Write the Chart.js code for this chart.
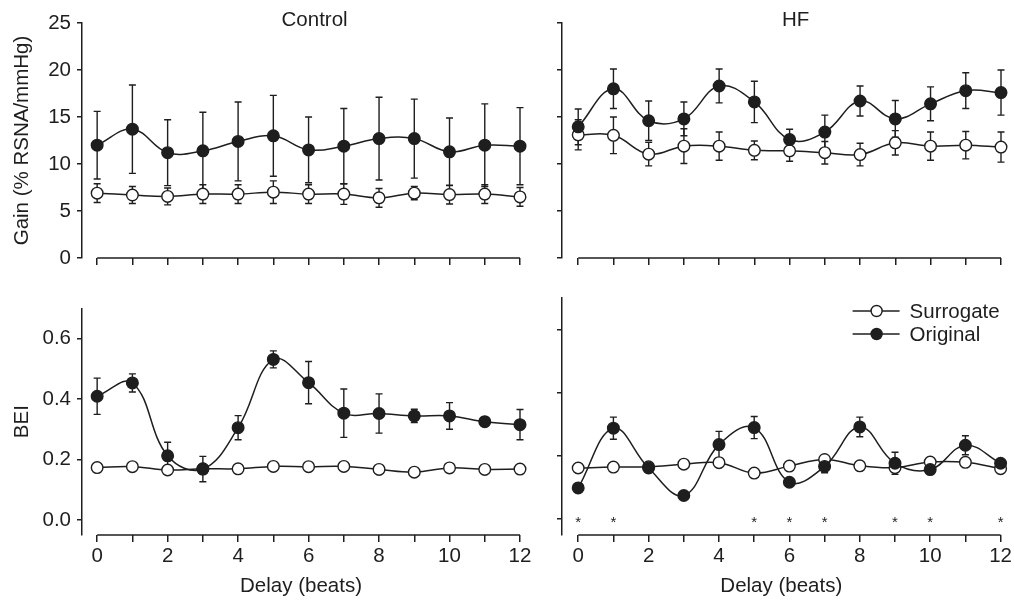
<!DOCTYPE html>
<html>
<head>
<meta charset="utf-8">
<script src="https://cdn.jsdelivr.net/npm/chart.js@4.4.1/dist/chart.umd.min.js"></script>
<style>
  html, body { margin: 0; padding: 0; background: #fff; overflow: hidden; }
  #wrap { position: relative; width: 1014px; height: 601px; }
  canvas { position: absolute; }
</style>
</head>
<body>
<div id="wrap">
  <canvas id="ctlGain" style="left:0px;top:0px;width:540px;height:290px" width="540" height="290"></canvas>
  <canvas id="hfGain" style="left:500px;top:0px;width:514px;height:290px" width="514" height="290"></canvas>
  <canvas id="ctlBei" style="left:0px;top:290px;width:540px;height:311px" width="540" height="311"></canvas>
  <canvas id="hfBei" style="left:500px;top:290px;width:514px;height:311px" width="514" height="311"></canvas>
</div>
<script>
// delays (beats)
const delays = [0, 1, 2, 3, 4, 5, 6, 7, 8, 9, 10, 11, 12];

// Gain, Control
const ctlGainOrig    = [12.0, 13.7, 11.2, 11.4, 12.4, 13.0, 11.5, 11.9, 12.7, 12.7, 11.3, 12.0, 11.9];
const ctlGainOrigErr = [3.6, 4.7, 3.5, 4.1, 4.2, 4.3, 3.5, 4.0, 4.4, 4.2, 3.6, 4.4, 4.1];
const ctlGainSurr    = [6.9, 6.7, 6.55, 6.8, 6.8, 7.0, 6.8, 6.8, 6.4, 6.9, 6.75, 6.8, 6.5];
const ctlGainSurrErr = [1.0, 0.9, 0.9, 1.0, 1.0, 1.2, 1.0, 1.1, 1.0, 0.7, 1.0, 1.0, 1.0];

// Gain, HF
const hfGainOrig    = [13.95, 18.0, 14.6, 14.8, 18.3, 16.6, 12.6, 13.4, 16.7, 14.8, 16.4, 17.8, 17.6];
const hfGainOrigErr = [1.9, 2.1, 2.1, 1.8, 1.8, 2.2, 1.1, 1.8, 1.6, 1.95, 1.8, 1.9, 2.4];
const hfGainSurr    = [13.1, 13.05, 11.05, 11.9, 11.9, 11.45, 11.4, 11.2, 11.0, 12.25, 11.9, 12.0, 11.8];
const hfGainSurrErr = [1.6, 1.95, 1.25, 1.85, 1.5, 1.0, 1.1, 1.2, 1.2, 1.3, 1.5, 1.45, 1.6];

// BEI, Control
const ctlBeiOrig    = [0.409, 0.453, 0.212, 0.168, 0.305, 0.531, 0.454, 0.353, 0.352, 0.344, 0.344, 0.325, 0.315];
const ctlBeiOrigErr = [0.06, 0.03, 0.045, 0.042, 0.04, 0.028, 0.07, 0.08, 0.065, 0.022, 0.044, 0.015, 0.05];
const ctlBeiSurr    = [0.173, 0.176, 0.165, 0.169, 0.169, 0.177, 0.176, 0.177, 0.167, 0.158, 0.172, 0.167, 0.168];
const ctlBeiSurrErr = [0.005, 0.005, 0.005, 0.005, 0.005, 0.005, 0.005, 0.005, 0.005, 0.005, 0.005, 0.005, 0.005];

// BEI, HF
const hfBeiOrig    = [0.099, 0.288, 0.162, 0.075, 0.236, 0.290, 0.117, 0.167, 0.292, 0.177, 0.157, 0.234, 0.177];
const hfBeiOrigErr = [0.012, 0.035, 0.01, 0.008, 0.042, 0.035, 0.01, 0.02, 0.031, 0.035, 0.01, 0.03, 0.01];
const hfBeiSurr    = [0.162, 0.165, 0.166, 0.174, 0.179, 0.146, 0.168, 0.189, 0.169, 0.163, 0.181, 0.180, 0.160];
const hfBeiSurrErr = [0.005, 0.005, 0.005, 0.005, 0.005, 0.005, 0.005, 0.005, 0.005, 0.005, 0.005, 0.005, 0.005];

// delays marked with * (HF BEI)
const hfSigDelays = [0, 1, 5, 6, 7, 9, 10, 12];

const gainTicks = [0, 5, 10, 15, 20, 25];
const beiTicks = [0, 0.2, 0.4, 0.6];

const INK = '#1e1e1e';
const FONT = '"Liberation Sans", Arial, Helvetica, sans-serif';
Chart.defaults.font.family = FONT;
Chart.defaults.font.size = 20.5;
Chart.defaults.color = INK;

const panelDeco = {
    id: 'panelDeco',
    beforeDatasetsDraw(chart) {
        const ctx = chart.ctx;
        const xs = chart.scales.x, ys = chart.scales.y;
        ctx.save();
        ctx.strokeStyle = INK;
        ctx.lineWidth = 1.4;
        chart.data.datasets.forEach(ds => {
            ds.data.forEach((p, i) => {
                const e = ds.errorBars[i];
                const x = xs.getPixelForValue(p.x);
                const yt = ys.getPixelForValue(p.y + e);
                const yb = ys.getPixelForValue(p.y - e);
                ctx.beginPath();
                ctx.moveTo(x, yt); ctx.lineTo(x, yb);
                ctx.moveTo(x - 3.5, yt); ctx.lineTo(x + 3.5, yt);
                ctx.moveTo(x - 3.5, yb); ctx.lineTo(x + 3.5, yb);
                ctx.stroke();
            });
        });
        ctx.restore();
    },
    afterDraw(chart, args, opts) {
        const ctx = chart.ctx;
        const xs = chart.scales.x, ys = chart.scales.y;
        const area = chart.chartArea;
        ctx.save();
        // x axis line from first to last delay
        ctx.strokeStyle = INK;
        ctx.lineWidth = 1.5;
        ctx.beginPath();
        ctx.moveTo(xs.getPixelForValue(delays[0]), area.bottom);
        ctx.lineTo(xs.getPixelForValue(delays[delays.length - 1]), area.bottom);
        ctx.stroke();

        ctx.fillStyle = INK;
        if (opts.title) {
            ctx.font = '20.5px ' + FONT;
            ctx.textAlign = 'center';
            ctx.textBaseline = 'middle';
            ctx.fillText(opts.title, xs.getPixelForValue(6) + 6, 20);
        }
        if (opts.stars) {
            ctx.font = '15px ' + FONT;
            ctx.textAlign = 'center';
            ctx.textBaseline = 'middle';
            opts.stars.forEach(d => {
                ctx.fillText('*', xs.getPixelForValue(d), ys.getPixelForValue(0) + 4);
            });
        }
        if (opts.legend) {
            const lx = area.right - 148;
            chart.data.datasets.forEach((ds, k) => {
                const y = area.top + 13 + k * 23;
                ctx.strokeStyle = INK;
                ctx.lineWidth = 1.4;
                ctx.beginPath();
                ctx.moveTo(lx, y); ctx.lineTo(lx + 47, y);
                ctx.stroke();
                ctx.beginPath();
                ctx.arc(lx + 24, y, 5.5, 0, Math.PI * 2);
                ctx.fillStyle = ds.pointBackgroundColor;
                ctx.fill();
                ctx.stroke();
                ctx.fillStyle = INK;
                ctx.font = '20.5px ' + FONT;
                ctx.textAlign = 'left';
                ctx.textBaseline = 'middle';
                ctx.fillText(ds.label, lx + 57, y + 1);
            });
        }
        ctx.restore();
    }
};

function series(label, values, errs, fill, order) {
    return {
        label: label,
        data: values.map((v, i) => ({ x: delays[i], y: v })),
        errorBars: errs,
        borderColor: INK,
        borderWidth: 1.5,
        pointBackgroundColor: fill,
        pointBorderColor: INK,
        pointBorderWidth: 1.4,
        pointRadius: 5.8,
        tension: 0.4,
        clip: false,
        order: order
    };
}

function makePanel(id, cfg) {
    const yOpts = {
        type: 'linear',
        min: cfg.yMin,
        max: cfg.yMax,
        afterBuildTicks: s => { s.ticks = cfg.yTicks.map(v => ({ value: v })); },
        afterFit: s => { s.width = cfg.yWidth; },
        border: { display: true, color: INK, width: 1.5 },
        grid: { display: true, drawOnChartArea: false, drawTicks: true, tickLength: 5, color: INK, lineWidth: 1.5 },
        ticks: {
            display: cfg.yLabels,
            padding: 6,
            callback: v => cfg.yFmt(v)
        },
        title: {
            display: !!cfg.yTitle,
            text: cfg.yTitle || '',
            padding: { top: 10, bottom: 0 }
        }
    };
    const xOpts = {
        type: 'linear',
        min: cfg.xMin,
        max: 12,
        afterBuildTicks: s => { s.ticks = delays.map(v => ({ value: v })); },
        afterFit: s => { s.height = cfg.xHeight; },
        border: { display: false },
        grid: { display: true, drawOnChartArea: false, drawTicks: true, tickLength: 7, color: INK, lineWidth: 1.5 },
        ticks: {
            display: cfg.xLabels,
            autoSkip: false,
            maxRotation: 0,
            padding: 2,
            callback: v => (v % 2 === 0 ? String(v) : '')
        },
        title: {
            display: cfg.xLabels,
            text: 'Delay (beats)',
            padding: { top: 0, bottom: 2 }
        }
    };
    return new Chart(document.getElementById(id), {
        type: 'line',
        data: {
            datasets: [
                series('Surrogate', cfg.surr, cfg.surrErr, '#ffffff', 2),
                series('Original', cfg.orig, cfg.origErr, INK, 1)
            ]
        },
        options: {
            responsive: false,
            animation: false,
            events: [],
            layout: { padding: cfg.pad },
            scales: { x: xOpts, y: yOpts },
            plugins: {
                legend: { display: false },
                tooltip: { enabled: false },
                panelDeco: cfg.deco
            }
        },
        plugins: [panelDeco]
    });
}

const gainFmt = v => String(v);
const beiFmt = v => v.toFixed(1);

makePanel('ctlGain', {
    orig: ctlGainOrig, origErr: ctlGainOrigErr, surr: ctlGainSurr, surrErr: ctlGainSurrErr,
    yMin: 0, yMax: 25, yTicks: gainTicks, yFmt: gainFmt, yLabels: true, yTitle: 'Gain (% RSNA/mmHg)',
    yWidth: 82, xMin: -0.43, xHeight: 32, xLabels: false,
    pad: { top: 23, right: 20, left: 0, bottom: 0 },
    deco: { title: 'Control' }
});

makePanel('hfGain', {
    orig: hfGainOrig, origErr: hfGainOrigErr, surr: hfGainSurr, surrErr: hfGainSurrErr,
    yMin: 0, yMax: 25, yTicks: gainTicks, yFmt: gainFmt, yLabels: false,
    yWidth: 62, xMin: -0.46, xHeight: 32, xLabels: false,
    pad: { top: 23, right: 13, left: 0, bottom: 0 },
    deco: { title: 'HF' }
});

makePanel('ctlBei', {
    orig: ctlBeiOrig, origErr: ctlBeiOrigErr, surr: ctlBeiSurr, surrErr: ctlBeiSurrErr,
    yMin: -0.05, yMax: 0.7, yTicks: beiTicks, yFmt: beiFmt, yLabels: true, yTitle: 'BEI',
    yWidth: 82, xMin: -0.43, xHeight: 66, xLabels: true,
    pad: { top: 8, right: 20, left: 0, bottom: 0 },
    deco: {}
});

makePanel('hfBei', {
    orig: hfBeiOrig, origErr: hfBeiOrigErr, surr: hfBeiSurr, surrErr: hfBeiSurrErr,
    yMin: -0.05, yMax: 0.7, yTicks: beiTicks, yFmt: beiFmt, yLabels: false,
    yWidth: 62, xMin: -0.46, xHeight: 66, xLabels: true,
    pad: { top: 8, right: 13, left: 0, bottom: 0 },
    deco: { stars: hfSigDelays, legend: true }
});
</script>
</body>
</html>
